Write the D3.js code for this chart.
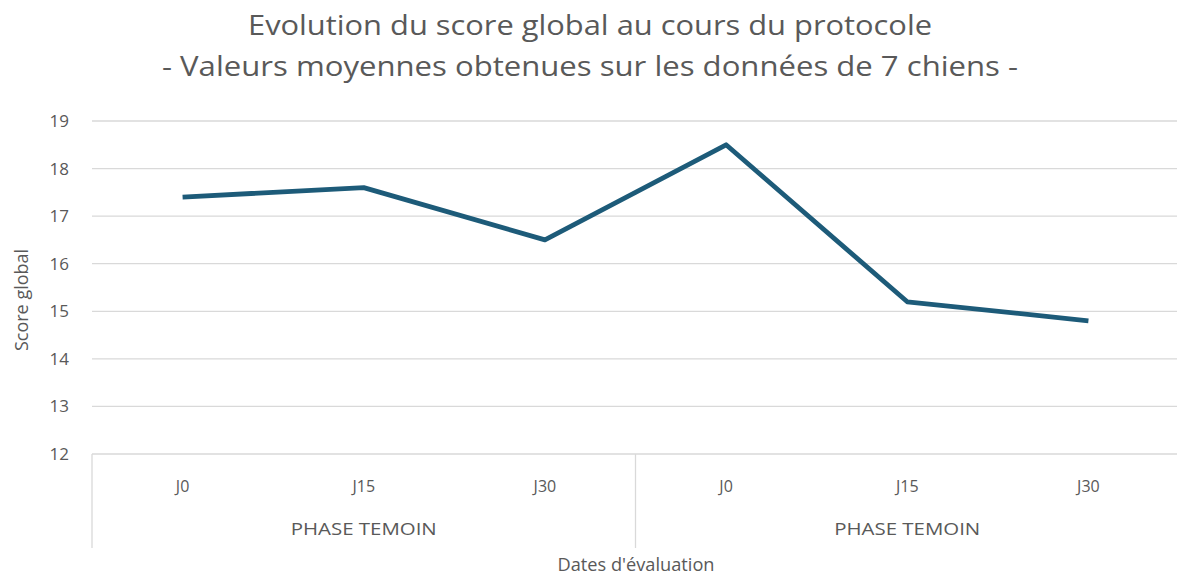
<!DOCTYPE html>
<html lang="fr">
  <head>
    <meta charset="utf-8">
    <title>Evolution du score global</title>
    <script src="https://d3js.org/d3.v7.min.js"></script>
    <style>
      body { margin: 0; background: #fff; }
      svg text { font-family: "Open Sans", "DejaVu Sans", sans-serif; fill: #595959; }
    </style>
  </head>
  <body>
    <svg id="chart" width="1177" height="578"></svg>
    <script>
      // data
      var days = ["J0", "J15", "J30", "J0", "J15", "J30"];
      var phases = ["PHASE TEMOIN", "PHASE TEMOIN"];
      var scores = [17.4, 17.6, 16.5, 18.5, 15.2, 14.8];
      var yTicks = [12, 13, 14, 15, 16, 17, 18, 19];

      var svg = d3.select("#chart");
      var plotLeft = 92, plotRight = 1179, plotTop = 121, plotBottom = 454;

      var x = d3.scaleBand()
        .domain(d3.range(days.length))
        .range([plotLeft, plotRight]);

      var y = d3.scaleLinear()
        .domain([12, 19])
        .range([plotBottom, plotTop]);

      // gridlines
      svg.append("g").selectAll("line")
        .data(yTicks.filter(function(d) { return d > 12; }))
        .join("line")
        .attr("x1", plotLeft).attr("x2", 1177)
        .attr("y1", function(d) { return y(d); })
        .attr("y2", function(d) { return y(d); })
        .attr("stroke", "#d9d9d9")
        .attr("stroke-width", 1.3);

      // y tick labels
      svg.append("g").selectAll("text")
        .data(yTicks)
        .join("text")
        .attr("x", 69)
        .attr("y", function(d) { return y(d); })
        .attr("dy", "0.35em")
        .attr("text-anchor", "end")
        .style("font-size", "17px")
        .text(function(d) { return d; });

      // category axis: baseline + group separators
      svg.append("line")
        .attr("x1", plotLeft).attr("x2", 1177)
        .attr("y1", plotBottom).attr("y2", plotBottom)
        .attr("stroke", "#d9d9d9").attr("stroke-width", 1.3);

      var sepIdx = [0, 3];
      svg.append("g").selectAll("line")
        .data(sepIdx)
        .join("line")
        .attr("x1", function(d) { return x(d); })
        .attr("x2", function(d) { return x(d); })
        .attr("y1", plotBottom).attr("y2", 548)
        .attr("stroke", "#d9d9d9").attr("stroke-width", 1.3);

      svg.append("g").selectAll("text")
        .data(days)
        .join("text")
        .attr("x", function(d, i) { return x(i) + x.bandwidth() / 2; })
        .attr("y", 486)
        .attr("dy", "0.35em")
        .attr("text-anchor", "middle")
        .style("font-size", "16px")
        .text(function(d) { return d; });

      svg.append("g").selectAll("text")
        .data(phases)
        .join("text")
        .attr("x", function(d, i) { return x(i * 3 + 1) + x.bandwidth() / 2; })
        .attr("y", 529)
        .attr("dy", "0.35em")
        .attr("text-anchor", "middle")
        .attr("textLength", 146)
        .attr("lengthAdjust", "spacingAndGlyphs")
        .style("font-size", "16px")
        .text(function(d) { return d; });

      // the line
      var line = d3.line()
        .x(function(d, i) { return x(i) + x.bandwidth() / 2; })
        .y(function(d) { return y(d); });

      svg.append("path")
        .datum(scores)
        .attr("d", line)
        .attr("fill", "none")
        .attr("stroke", "#1d5b79")
        .attr("stroke-width", 4.8)
        .attr("stroke-linejoin", "round");

      // titles
      svg.append("text")
        .attr("x", 590).attr("y", 25)
        .attr("dy", "0.35em")
        .attr("text-anchor", "middle")
        .attr("textLength", 684)
        .attr("lengthAdjust", "spacingAndGlyphs")
        .style("font-size", "28px")
        .text("Evolution du score global au cours du protocole");

      svg.append("text")
        .attr("x", 590).attr("y", 66)
        .attr("dy", "0.35em")
        .attr("text-anchor", "middle")
        .attr("textLength", 856)
        .attr("lengthAdjust", "spacingAndGlyphs")
        .style("font-size", "28px")
        .text("- Valeurs moyennes obtenues sur les données de 7 chiens -");

      // axis titles
      svg.append("text")
        .attr("x", 636).attr("y", 565)
        .attr("dy", "0.35em")
        .attr("text-anchor", "middle")
        .attr("textLength", 157)
        .attr("lengthAdjust", "spacingAndGlyphs")
        .style("font-size", "18px")
        .text("Dates d'évaluation");

      svg.append("text")
        .attr("transform", "translate(22,300) rotate(-90)")
        .attr("dy", "0.35em")
        .attr("text-anchor", "middle")
        .style("font-size", "18px")
        .text("Score global");
    </script>
  </body>
</html>
